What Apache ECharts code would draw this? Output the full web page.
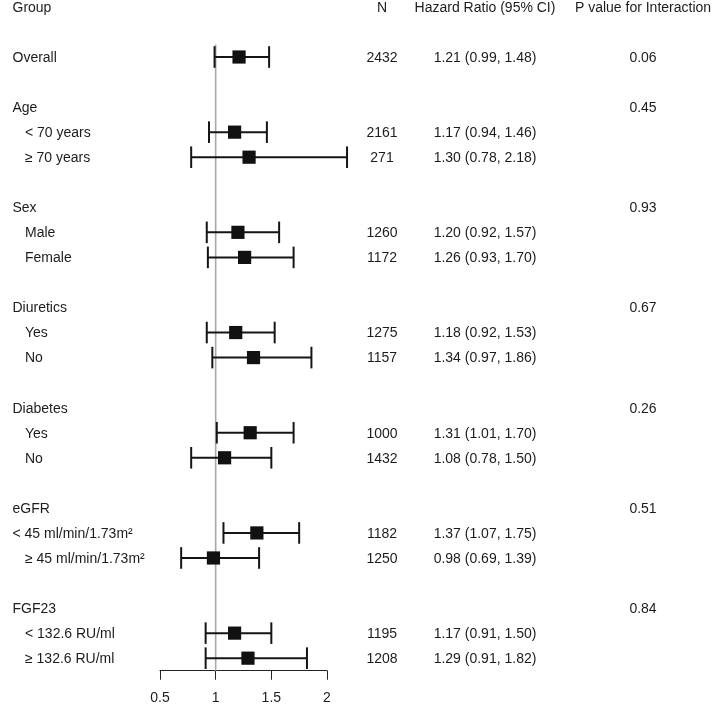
<!DOCTYPE html>
<html>
<head>
<meta charset="utf-8">
<script src="https://cdn.jsdelivr.net/npm/echarts@6/dist/echarts.min.js"></script>
<style>
html,body{margin:0;padding:0;background:#fff;}
#chart{width:714px;height:705px;}
</style>
</head>
<body>
<div id="chart"></div>
<script>
// ---- data ----
const columnHeaders = ["Group", "N", "Hazard Ratio (95% CI)", "P value for Interaction"];
const rowLabels = ["Overall", "Age", "< 70 years", "≥ 70 years", "Sex", "Male", "Female",
  "Diuretics", "Yes", "No", "Diabetes", "Yes", "No", "eGFR", "< 45 ml/min/1.73m²",
  "≥ 45 ml/min/1.73m²", "FGF23", "< 132.6 RU/ml", "≥ 132.6 RU/ml"];
const rowPos = [2, 4, 5, 6, 8, 9, 10, 12, 13, 14, 16, 17, 18, 20, 21, 22, 24, 25, 26];
const indented = [0, 0, 1, 1, 0, 1, 1, 0, 1, 1, 0, 1, 1, 0, 0, 1, 0, 1, 1];
const nValues = [2432, null, 2161, 271, null, 1260, 1172, null, 1275, 1157, null, 1000, 1432, null, 1182, 1250, null, 1195, 1208];
const hrValues = [1.21, null, 1.17, 1.30, null, 1.20, 1.26, null, 1.18, 1.34, null, 1.31, 1.08, null, 1.37, 0.98, null, 1.17, 1.29];
const ciLow = [0.99, null, 0.94, 0.78, null, 0.92, 0.93, null, 0.92, 0.97, null, 1.01, 0.78, null, 1.07, 0.69, null, 0.91, 0.91];
const ciHigh = [1.48, null, 1.46, 2.18, null, 1.57, 1.70, null, 1.53, 1.86, null, 1.70, 1.50, null, 1.75, 1.39, null, 1.50, 1.82];
const pInteraction = ["0.06", "0.45", "", "", "0.93", "", "", "0.67", "", "", "0.26", "", "", "0.51", "", "", "0.84", "", ""];
const xTicks = [0.5, 1, 1.5, 2];
const refValue = 1;

// ---- build ----
const FONT = "'Liberation Sans', Arial, Helvetica, sans-serif";
const TXT = '#1c1c1c';
const FS = 14;

const ciData = [];
rowPos.forEach((p, i) => {
  if (hrValues[i] != null) ciData.push([hrValues[i], p, ciLow[i], ciHigh[i]]);
});

const textData = [[1, 0]].concat(rowPos.map(p => [1, p]));

const chart = echarts.init(document.getElementById('chart'), null, {renderer: 'canvas'});
chart.setOption({
  animation: false,
  backgroundColor: '#fff',
  grid: {left: 160, right: 387, top: 6.9, bottom: 34.3, containLabel: false},
  xAxis: {
    type: 'value', min: xTicks[0], max: xTicks[xTicks.length - 1], interval: 0.5,
    axisLine: {show: true, onZero: false, lineStyle: {color: '#222', width: 1}},
    axisTick: {show: true, length: 9, lineStyle: {color: '#222', width: 1}},
    axisLabel: {show: true, margin: 20, fontFamily: FONT, fontSize: FS, color: TXT,
      formatter: v => String(v)},
    splitLine: {show: false}
  },
  yAxis: {type: 'value', inverse: true, min: 0, max: 26.5, show: false},
  series: [
    {
      type: 'custom', clip: false, silent: true,
      data: [[refValue, 1.5, 26.5]],
      renderItem: (params, api) => {
        const a = api.coord([api.value(0), api.value(1)]);
        const b = api.coord([api.value(0), api.value(2)]);
        return {type: 'line', shape: {x1: a[0], y1: a[1], x2: b[0], y2: b[1]},
          style: {stroke: '#a8a8a8', lineWidth: 1.6}};
      },
      z: 1
    },
    {
      type: 'custom', clip: false, silent: true,
      data: ciData,
      renderItem: (params, api) => {
        const y = api.value(1);
        const c = api.coord([api.value(0), y]);
        const l = api.coord([api.value(2), y]);
        const h = api.coord([api.value(3), y]);
        const cap = 10.8, sq = 13.2;
        const st = {stroke: '#151515', lineWidth: 2};
        return {type: 'group', children: [
          {type: 'line', shape: {x1: l[0], y1: c[1], x2: h[0], y2: c[1]}, style: st},
          {type: 'line', shape: {x1: l[0], y1: c[1] - cap, x2: l[0], y2: c[1] + cap}, style: st},
          {type: 'line', shape: {x1: h[0], y1: c[1] - cap, x2: h[0], y2: c[1] + cap}, style: st},
          {type: 'rect', shape: {x: c[0] - sq / 2, y: c[1] - sq / 2, width: sq, height: sq},
            style: {fill: '#111'}}
        ]};
      },
      z: 3
    },
    {
      type: 'custom', clip: false, silent: true,
      data: textData,
      renderItem: (params, api) => {
        const idx = params.dataIndex;
        const base = {fontFamily: FONT, fontSize: FS, fill: TXT, verticalAlign: 'middle'};
        const mk = (text, x, y, align) => ({type: 'text', x: x, y: y,
          style: Object.assign({text: text, align: align}, base)});
        const y = api.coord([api.value(0), api.value(1)])[1] + 1;
        if (idx === 0) {
          return {type: 'group', children: [
            mk(columnHeaders[0], 12.5, y, 'left'),
            mk(columnHeaders[1], 382, y, 'center'),
            mk(columnHeaders[2], 485, y, 'center'),
            mk(columnHeaders[3], 643, y, 'center')
          ]};
        }
        const i = idx - 1;
        const kids = [mk(rowLabels[i], indented[i] ? 25 : 12.5, y, 'left')];
        if (nValues[i] != null) kids.push(mk(String(nValues[i]), 382, y, 'center'));
        if (hrValues[i] != null) kids.push(mk(
          hrValues[i].toFixed(2) + ' (' + ciLow[i].toFixed(2) + ', ' + ciHigh[i].toFixed(2) + ')',
          485, y, 'center'));
        if (pInteraction[i]) kids.push(mk(pInteraction[i], 643, y, 'center'));
        return {type: 'group', children: kids};
      },
      z: 5
    }
  ]
});
</script>
</body>
</html>
